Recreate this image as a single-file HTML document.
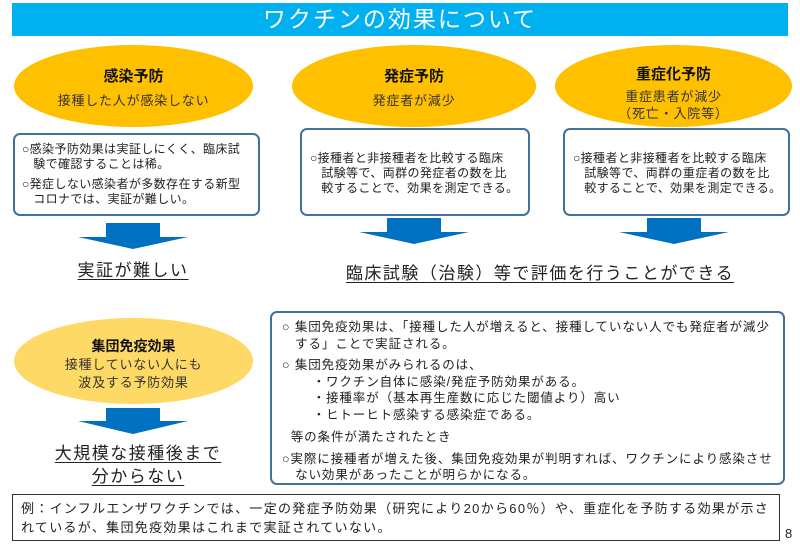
<!DOCTYPE html>
<html><head><meta charset="utf-8"><style>
body{margin:0;width:800px;height:554px;background:#fff;position:relative;overflow:hidden;font-family:"Liberation Sans","Noto Sans CJK JP",sans-serif;color:#222}
div{position:absolute;box-sizing:border-box}
.title{left:12px;top:3px;width:776px;height:33px;background:#00b0f0;color:#fff;font-size:23px;text-align:center;line-height:33px;letter-spacing:2px}
.ell{background:#ffc000;border-radius:50%;text-align:center}
.ell b{display:block;font-size:15px;color:#111}
.ell span{font-size:13px;color:#333;letter-spacing:0.8px}
.box{border:2px solid #41719c;border-radius:7px;background:#fff;font-size:12px;line-height:15px;letter-spacing:0.4px;white-space:nowrap}
.big{font-size:17px;text-align:center;text-decoration:underline;text-underline-offset:3px;letter-spacing:1.5px}
</style></head><body>
<div class="title">ワクチンの効果について</div>

<div class="ell" style="left:14px;top:45px;width:239px;height:82px;padding-top:20px"><b>感染予防</b><span style="line-height:30px">接種した人が感染しない</span></div>
<div class="ell" style="left:292px;top:45px;width:244px;height:82px;padding-top:20px"><b>発症予防</b><span style="line-height:30px">発症者が減少</span></div>
<div class="ell" style="left:555px;top:45px;width:237px;height:82px;padding-top:18px"><b>重症化予防</b><span style="line-height:17px;display:block;margin-top:4px">重症患者が減少<br>（死亡・入院等）</span></div>

<div class="box" style="left:13px;top:133px;width:247px;height:83px;padding:7px 0 0 7px">○感染予防効果は実証しにくく、臨床試<br>&nbsp;&nbsp;&nbsp;験で確認することは稀。<div style="position:static;height:5px"></div>○発症しない感染者が多数存在する新型<br>&nbsp;&nbsp;&nbsp;コロナでは、実証が難しい。</div>
<div class="box" style="left:300px;top:128px;width:230px;height:88px;padding:21px 0 0 8px">○接種者と非接種者を比較する臨床<br>&nbsp;&nbsp;&nbsp;試験等で、両群の発症者の数を比<br>&nbsp;&nbsp;&nbsp;較することで、効果を測定できる。</div>
<div class="box" style="left:563px;top:128px;width:227px;height:88px;padding:21px 0 0 8px">○接種者と非接種者を比較する臨床<br>&nbsp;&nbsp;&nbsp;試験等で、両群の重症者の数を比<br>&nbsp;&nbsp;&nbsp;較することで、効果を測定できる。</div>

<svg style="position:absolute;left:0;top:0" width="800" height="554">
<g fill="#0070c0">
<polygon points="106,223 160,223 160,237 188,237 133,249 78,237 106,237"/>
<polygon points="387,218 441,218 441,232 469,232 414,244 359,232 387,232"/>
<polygon points="647,218 701,218 701,232 729,232 674,244 619,232 647,232"/>
<polygon points="106,408 160,408 160,421 188,421 133,434 78,421 106,421"/>
</g></svg>

<div class="big" style="left:23px;top:256px;width:220px">実証が難しい</div>
<div class="big" style="left:328px;top:259px;width:424px">臨床試験（治験）等で評価を行うことができる</div>

<div class="ell" style="left:14px;top:318px;width:239px;height:86px;background:#ffd966;padding-top:18px"><b style="font-size:14px">集団免疫効果</b><span style="line-height:18px;display:block">接種していない人にも<br>波及する予防効果</span></div>
<div class="big" style="left:28px;top:442px;width:220px;line-height:23px">大規模な接種後まで<br>分からない</div>

<div class="box" style="left:270px;top:311px;width:515px;height:174px;padding:6px 0 0 10px;font-size:12.5px;line-height:16.5px;letter-spacing:0.9px">
○ 集団免疫効果は、「接種した人が増えると、接種していない人でも発症者が減少<br>&nbsp;&nbsp;&nbsp;する」ことで実証される。<div style="position:static;height:5px"></div>
○ 集団免疫効果がみられるのは、<br>
&nbsp;&nbsp;&nbsp;&nbsp;&nbsp;&nbsp;&nbsp;・ワクチン自体に感染/発症予防効果がある。<br>
&nbsp;&nbsp;&nbsp;&nbsp;&nbsp;&nbsp;&nbsp;・接種率が（基本再生産数に応じた閾値より）高い<br>
&nbsp;&nbsp;&nbsp;&nbsp;&nbsp;&nbsp;&nbsp;・ヒトーヒト感染する感染症である。<div style="position:static;height:6px"></div>
&nbsp;&nbsp;等の条件が満たされたとき<div style="position:static;height:5px"></div>
○実際に接種者が増えた後、集団免疫効果が判明すれば、ワクチンにより感染させ<br>&nbsp;&nbsp;&nbsp;ない効果があったことが明らかになる。</div>

<div style="left:12px;top:494px;width:768px;height:47px;border:1.5px solid #333;font-size:13px;line-height:19px;padding:4px 0 0 8px;letter-spacing:1.3px;white-space:nowrap">例：インフルエンザワクチンでは、一定の発症予防効果（研究により20から60％）や、重症化を予防する効果が示さ<br>れているが、集団免疫効果はこれまで実証されていない。</div>
<div style="left:785px;top:526px;font-size:13px">8</div>
</body></html>
